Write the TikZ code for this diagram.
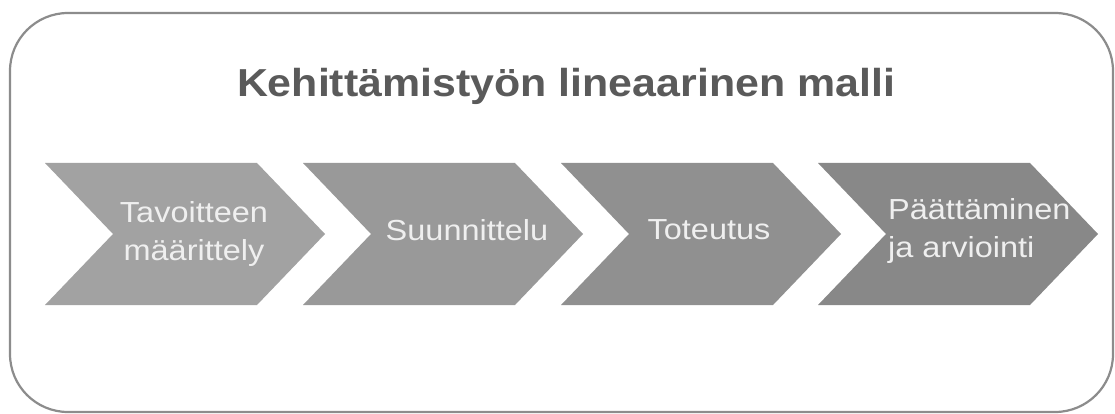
\documentclass[tikz,border=0pt]{standalone}
\usepackage{fontspec}
\setmainfont{Liberation Sans}
\usetikzlibrary{calc}
\definecolor{frame}{HTML}{8C8C8C}
\definecolor{titlec}{HTML}{5A5A5A}
\definecolor{cA}{HTML}{A2A2A2}
\definecolor{cB}{HTML}{999999}
\definecolor{cC}{HTML}{909090}
\definecolor{cD}{HTML}{888888}
\definecolor{txt}{HTML}{EFEFEF}
\begin{document}
\begin{tikzpicture}[x=1pt,y=-1pt,
  chev/.style={line width=0pt},
  steptext/.style={text=txt, inner sep=0pt, font=\fontsize{29}{38}\selectfont},
  titletext/.style={text=titlec, inner sep=0pt, font=\fontsize{39}{44}\selectfont\bfseries}]
\useasboundingbox (0,0) rectangle (1115,414);
\fill[white] (0,0) rectangle (1115,414);
\draw[frame, line width=2.2pt, rounded corners=58pt] (10,13) rectangle (1113,412);
\node[titletext, anchor=base] (title) at (566,97) {\scalebox{1.1}[1]{Kehittämistyön lineaarinen malli}};
% chevrons
\foreach \L/\c/\n in {45/cA/c1, 303/cB/c2, 561/cC/c3, 818/cD/c4}{
  \fill[\c] (\L,163) -- (\L+212,163) -- (\L+280,234) -- (\L+212,305) -- (\L,305) -- (\L+68,234) -- cycle;
  \coordinate (\n) at (\L,234);
}
\node[steptext, align=center] (t1) at ($(c1)+(149,0)$) {\scalebox{1.12}[1]{Tavoitteen}\\\scalebox{1.12}[1]{määrittely}};
\node[steptext] (t2) at ($(c2)+(164,-4)$) {\scalebox{1.12}[1]{Suunnittelu}};
\node[steptext] (t3) at ($(c3)+(148,-4)$) {\scalebox{1.12}[1]{Toteutus}};
\node[steptext, align=left, anchor=west] (t4) at ($(c4)+(70,-3)$) {\scalebox{1.12}[1]{Päättäminen}\\\scalebox{1.12}[1]{ja arviointi}};
\end{tikzpicture}
\end{document}
